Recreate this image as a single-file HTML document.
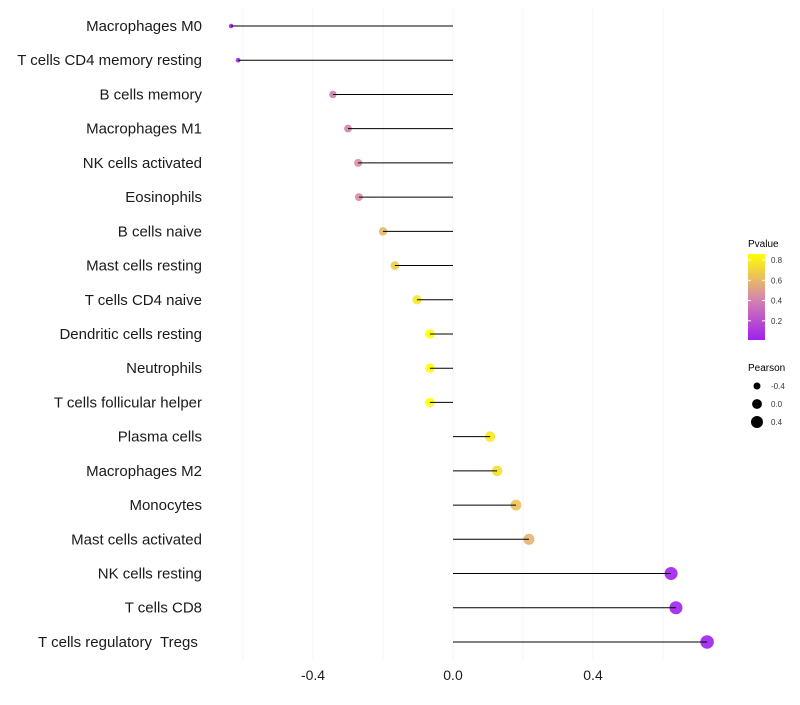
<!DOCTYPE html>
<html><head><meta charset="utf-8"><style>
body{margin:0;background:#fff;font-family:"Liberation Sans",sans-serif}
svg text{font-family:"Liberation Sans",sans-serif}
</style></head><body>
<svg id="chart" width="800" height="700" xmlns="http://www.w3.org/2000/svg">
<defs><linearGradient id="pg" x1="0" y1="1" x2="0" y2="0">
<stop offset="0" stop-color="#a020f0"/><stop offset="0.5" stop-color="#d88aa8"/><stop offset="1" stop-color="#ffff00"/></linearGradient></defs>
<g id="grid"></g>
<g id="points"></g>
<g id="marks"></g>
<g id="ylabels"></g>
<g id="xlabels"></g>
<g>
<text x="748" y="247" font-size="10">Pvalue</text>
<rect x="748" y="254" width="17" height="86" fill="url(#pg)"/>
<g id="cbticks"></g>
</g>
<g id="sizeleg">
<text x="748" y="371" font-size="10">Pearson</text>
</g>
</svg>
<script>
const categories=["Macrophages M0","T cells CD4 memory resting","B cells memory","Macrophages M1","NK cells activated","Eosinophils","B cells naive","Mast cells resting","T cells CD4 naive","Dendritic cells resting","Neutrophils","T cells follicular helper","Plasma cells","Macrophages M2","Monocytes","Mast cells activated","NK cells resting","T cells CD8","T cells regulatory\u00a0 Tregs\u00a0"];
const pearson=[-0.634,-0.614,-0.343,-0.30,-0.271,-0.269,-0.20,-0.166,-0.103,-0.066,-0.066,-0.066,0.106,0.126,0.18,0.217,0.623,0.637,0.726];
const pvalues=[0.03,0.05,0.38,0.40,0.45,0.45,0.60,0.68,0.78,0.86,0.86,0.86,0.78,0.74,0.64,0.58,0.02,0.02,0.01];
const xTicks=[-0.4,0.0,0.4];
const xTickLabels=["-0.4","0.0","0.4"];
const cbTicks=[0.2,0.4,0.6,0.8];
const sizeLegend=[-0.4,0.0,0.4];
const NS="http://www.w3.org/2000/svg";
const X=v=>453+v*350;
const Y=i=>26+i*34.22;
const R=v=>Math.sqrt(Math.max(24+29.7*v,3));
const P=v=>340-(v-0.01)/0.85*86;
function col(p){const t=Math.max(0,Math.min(1,(p-0.01)/0.85));
 const a=[160,32,240],m=[216,138,168],b=[255,255,0];let c;
 if(t<0.5){const u=t*2;c=a.map((x,k)=>x+(m[k]-x)*u);}else{const u=(t-0.5)*2;c=m.map((x,k)=>x+(b[k]-x)*u);}
 return `rgb(${c.map(Math.round).join(',')})`;}
function mk(tag,attrs,parent){const e=document.createElementNS(NS,tag);for(const k in attrs)e.setAttribute(k,attrs[k]);parent.appendChild(e);return e;}
const grid=document.getElementById('grid');
[-0.6,-0.4,-0.2,0,0.2,0.4,0.6].forEach(v=>{const l=mk('line',{x1:X(v),x2:X(v),y1:8,y2:660,stroke:'#f0f0f0','stroke-width':0.8},grid);

});
const marks=document.getElementById('marks'),pts=document.getElementById('points'),yl=document.getElementById('ylabels');
categories.forEach((c,i)=>{
 const p=mk('circle',{cx:X(pearson[i]),cy:Y(i),r:R(pearson[i]),fill:col(pvalues[i]),'fill-opacity':0.9},pts);
 
 
 const l=mk('line',{x1:X(0),x2:X(pearson[i]),y1:Y(i),y2:Y(i),stroke:'#000','stroke-width':1},marks);
 
 
 const t=mk('text',{x:202,y:Y(i)+5,'text-anchor':'end','font-size':15,fill:'#1a1a1a'},yl);t.textContent=c;
 
 
});
const xl=document.getElementById('xlabels');
xTicks.forEach((v,i)=>{const t=mk('text',{x:X(v),y:680,'text-anchor':'middle','font-size':14,fill:'#1a1a1a'},xl);t.textContent=xTickLabels[i];

});
const cb=document.getElementById('cbticks');
cbTicks.forEach(v=>{mk('line',{x1:748,x2:751,y1:P(v),y2:P(v),stroke:'#fff'},cb);mk('line',{x1:762,x2:765,y1:P(v),y2:P(v),stroke:'#fff'},cb);
const t=mk('text',{x:771,y:P(v)+3,'font-size':8,fill:'#333'},cb);t.textContent=v.toFixed(1);

});
const sl=document.getElementById('sizeleg');
sizeLegend.forEach((v,i)=>{const y=386+i*18;const c=mk('circle',{cx:757,cy:y,r:R(v),fill:'#000'},sl);


const t=mk('text',{x:771,y:y+3,'font-size':8,fill:'#333'},sl);t.textContent=v.toFixed(1);

});
</script>
</body></html>
